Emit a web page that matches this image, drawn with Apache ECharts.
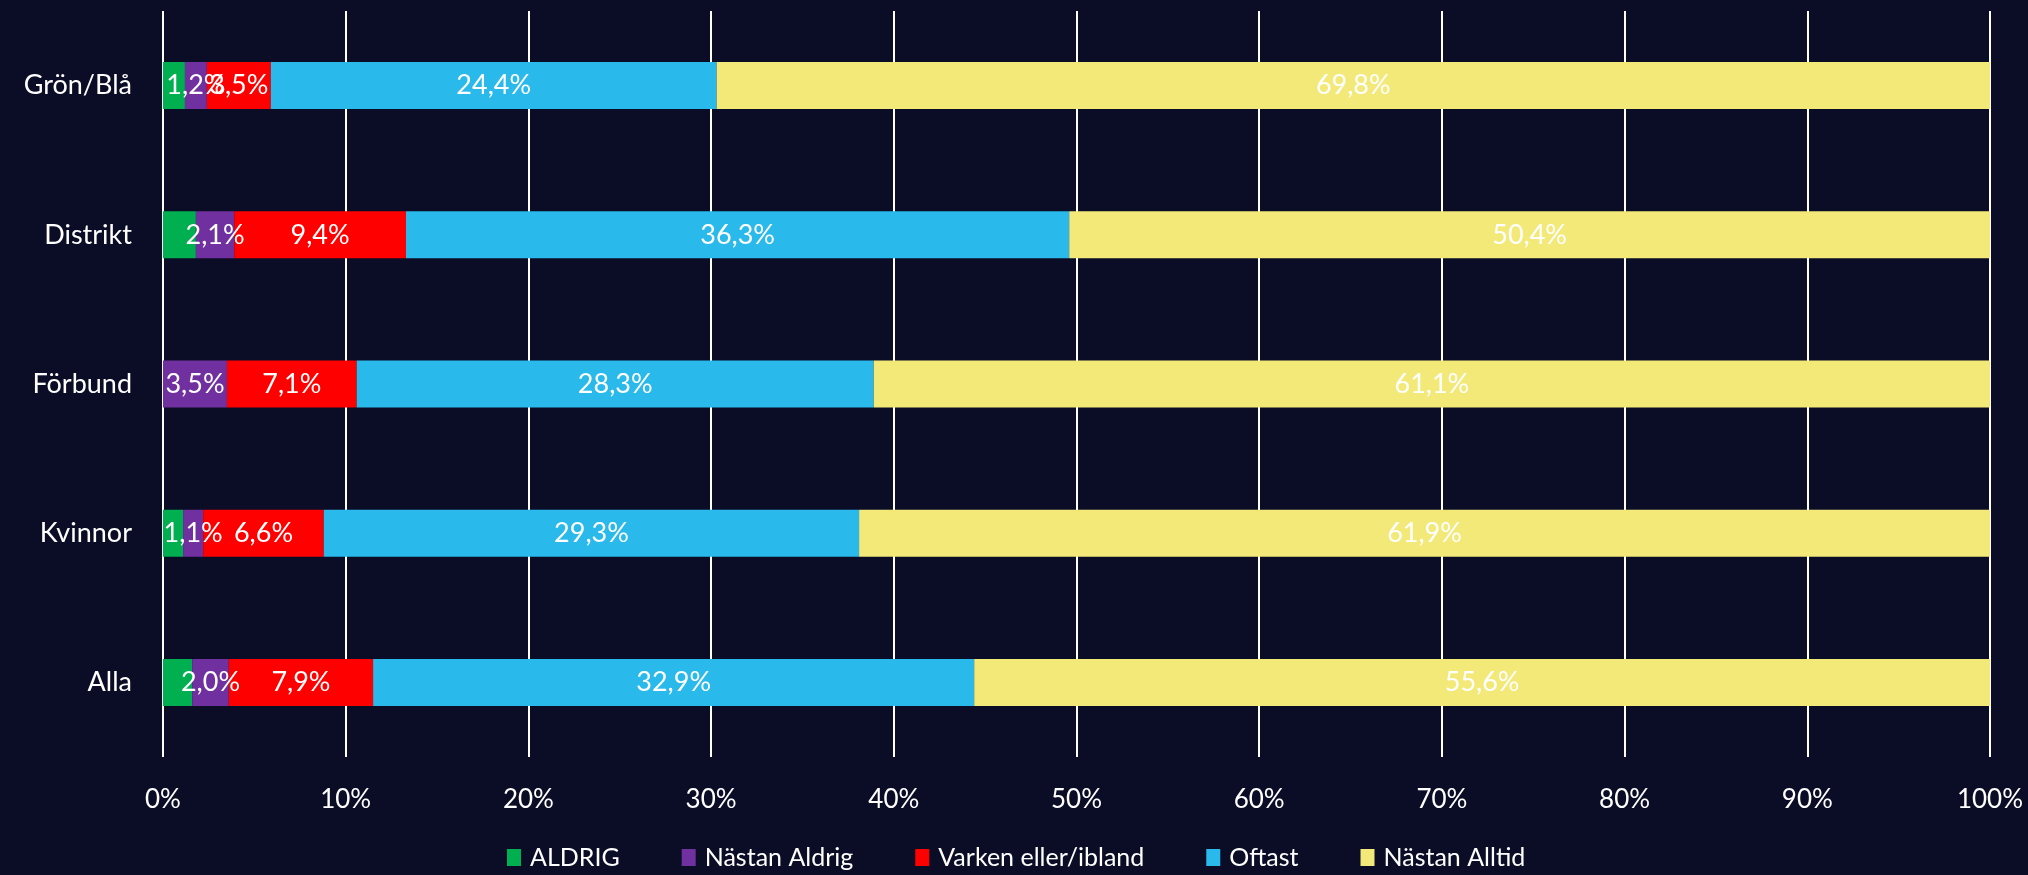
<!DOCTYPE html>
<html>
<head>
<meta charset="utf-8">
<script src="https://cdn.jsdelivr.net/npm/echarts@6/dist/echarts.min.js"></script>
<style>
  html, body { margin: 0; padding: 0; background: #0b0d27; }
  #chart { width: 2028px; height: 875px; }
</style>
</head>
<body>
<div id="chart"></div>
<script>
const categories = ['Grön/Blå', 'Distrikt', 'Förbund', 'Kvinnor', 'Alla'];
const aldrig = [1.2, 1.8, 0, 1.1, 1.6];
const nastanAldrig = [1.2, 2.1, 3.5, 1.1, 2.0];
const varken = [3.5, 9.4, 7.1, 6.6, 7.9];
const oftast = [24.4, 36.3, 28.3, 29.3, 32.9];
const nastanAlltid = [69.8, 50.4, 61.1, 61.9, 55.6];
const tickLabels = ['0%', '10%', '20%', '30%', '40%', '50%', '60%', '70%', '80%', '90%', '100%'];

const font = 'Lato';
const fmt = p => p.value ? p.value.toFixed(1).replace('.', ',') + '%' : '';

const chart = echarts.init(document.getElementById('chart'));

function bar(name, data, color, showLabel) {
    return {
        name: name,
        type: 'bar',
        stack: 'total',
        barWidth: 47,
        data: data,
        itemStyle: { color: color },
        label: {
            show: showLabel,
            position: 'inside',
            color: '#ffffff',
            fontFamily: font,
            fontSize: 27,
            formatter: fmt
        },
        animation: false
    };
}

chart.setOption({
    backgroundColor: '#0b0d27',
    grid: { left: 163, right: 38, top: 11, bottom: 118 },
    legend: {
        left: 502,
        top: 840,
        itemWidth: 14,
        itemHeight: 17,
        itemGap: 62,
        icon: 'rect',
        textStyle: {
            color: '#ffffff',
            fontFamily: font,
            fontSize: 25,
            padding: [0, 0, 0, 4]
        }
    },
    xAxis: {
        type: 'value',
        min: 0,
        max: 100,
        interval: 10,
        axisLine: { show: false },
        axisTick: { show: false },
        splitLine: { show: true, lineStyle: { color: '#ffffff', width: 2 } },
        axisLabel: {
            color: '#ffffff',
            fontFamily: font,
            fontSize: 26,
            margin: 30,
            formatter: (v) => tickLabels[Math.round(v / 10)]
        }
    },
    yAxis: {
        type: 'category',
        data: categories,
        inverse: true,
        axisLine: { show: false },
        axisTick: { show: false },
        axisLabel: {
            color: '#ffffff',
            fontFamily: font,
            fontSize: 27,
            margin: 31
        }
    },
    series: [
        bar('ALDRIG', aldrig, '#00b050', false),
        bar('Nästan Aldrig', nastanAldrig, '#7030a0', true),
        bar('Varken eller/ibland', varken, '#ff0000', true),
        bar('Oftast', oftast, '#29b9eb', true),
        bar('Nästan Alltid', nastanAlltid, '#f3e979', true)
    ]
});
</script>
</body>
</html>
